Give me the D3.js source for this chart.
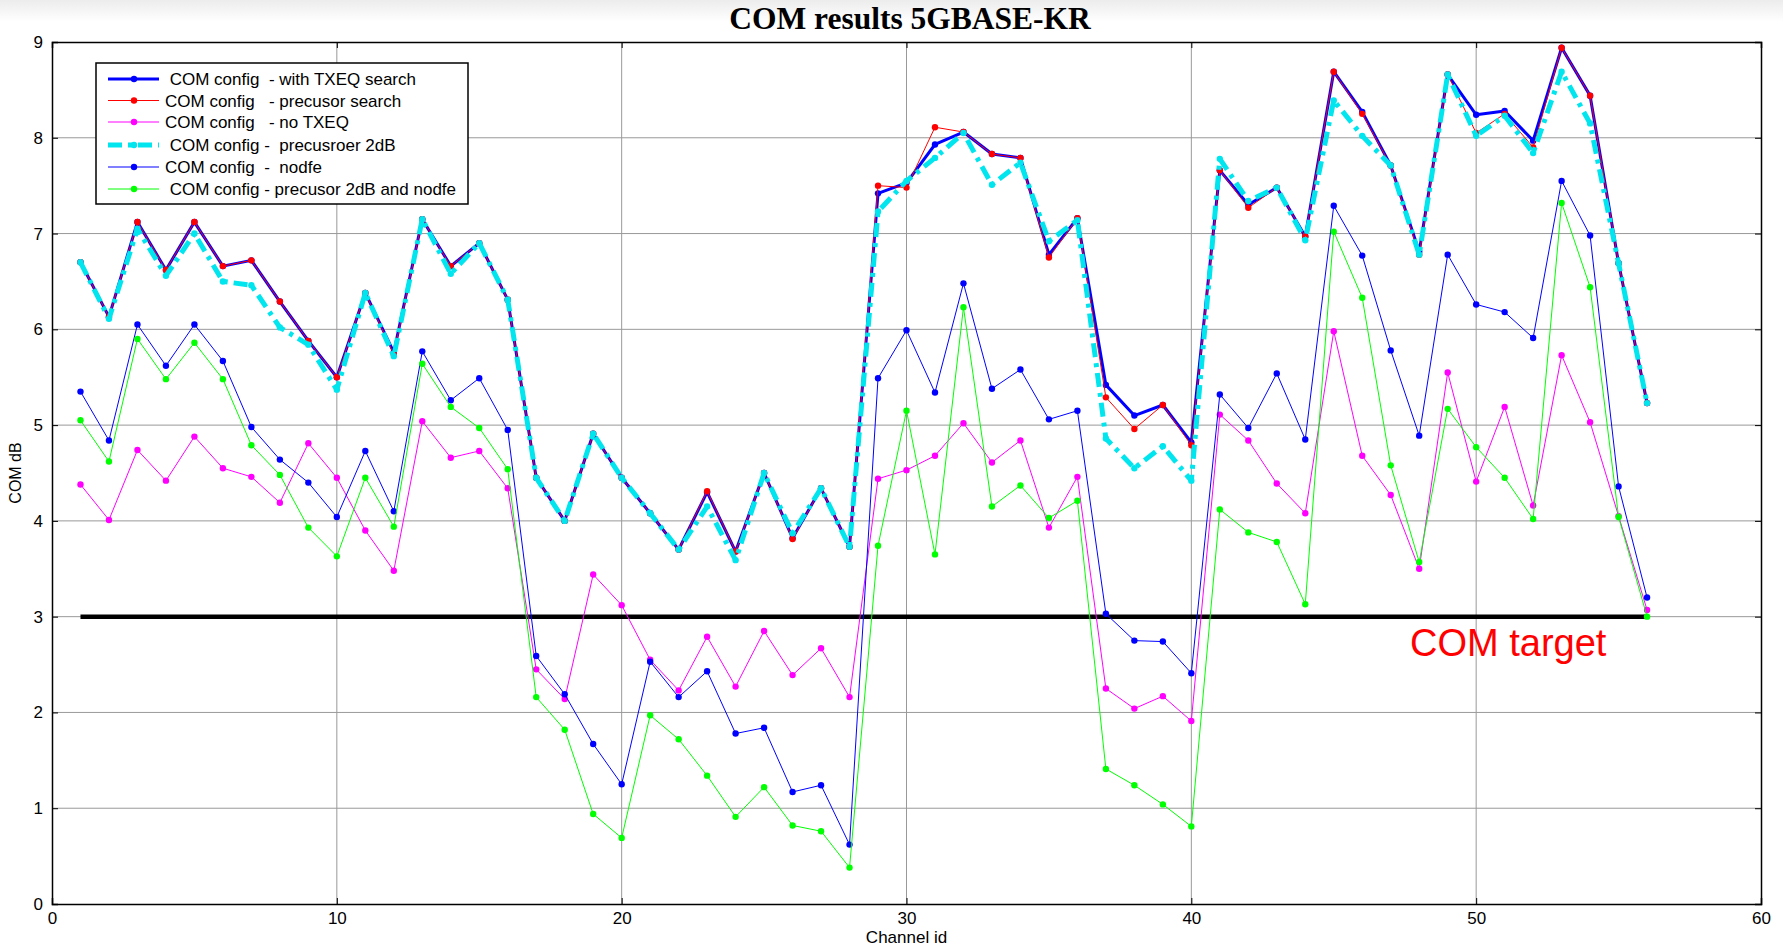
<!DOCTYPE html>
<html lang="en">
<head>
<meta charset="UTF-8">
<title>COM results 5GBASE-KR</title>
<script src="https://d3js.org/d3.v7.min.js"></script>
<style>
  body { margin: 0; background: #fff; font-family: "Liberation Sans", Arial, sans-serif; }
  svg { display: block; }
  .legend text { white-space: pre; }
</style>
</head>
<body>
<svg id="chart"></svg>
<script>
const width = 1783, height = 949;

// ==== data ====
const channels = [1,2,3,4,5,6,7,8,9,10,11,12,13,14,15,16,17,18,19,20,21,22,23,24,25,26,27,28,
  29,30,31,32,33,34,35,36,37,38,39,40,41,42,43,44,45,46,47,48,49,50,51,52,53,54,55,56];

const withTxeq = [6.70,6.13,7.12,6.62,7.12,6.66,6.72,6.29,5.88,5.50,6.38,5.76,7.15,6.66,6.90,6.31,
  4.45,4.00,4.91,4.45,4.08,3.70,4.30,3.68,4.50,3.82,4.34,3.73,7.42,7.53,7.93,8.06,7.83,7.79,6.78,7.16,
  5.42,5.10,5.21,4.82,7.66,7.30,7.48,6.97,8.69,8.27,7.71,6.81,8.66,8.24,8.28,7.97,8.94,8.44,6.69,5.23];

const precursor = [6.70,6.13,7.12,6.62,7.12,6.66,6.72,6.29,5.88,5.50,6.38,5.74,7.15,6.66,6.90,6.31,
  4.45,4.00,4.91,4.45,4.08,3.70,4.31,3.68,4.50,3.81,4.34,3.73,7.50,7.48,8.11,8.06,7.83,7.79,6.75,7.16,
  5.29,4.96,5.21,4.79,7.66,7.27,7.48,6.97,8.69,8.25,7.71,6.78,8.66,8.05,8.25,7.90,8.94,8.44,6.69,5.23];

const noTxeq = [4.38,4.01,4.74,4.42,4.88,4.55,4.46,4.19,4.81,4.45,3.90,3.48,5.04,4.66,4.73,4.34,
  2.45,2.14,3.44,3.12,2.55,2.23,2.79,2.27,2.85,2.39,2.67,2.16,4.44,4.53,4.68,5.02,4.61,4.84,3.93,4.46,
  2.25,2.04,2.17,1.91,5.11,4.84,4.39,4.08,5.98,4.68,4.27,3.50,5.55,4.41,5.19,4.16,5.73,5.03,4.05,3.07];

const precursor2dB = [6.70,6.11,7.05,6.56,7.00,6.50,6.46,6.02,5.84,5.37,6.38,5.72,7.15,6.58,6.90,6.31,
  4.45,4.00,4.91,4.45,4.08,3.70,4.15,3.59,4.50,3.87,4.34,3.73,7.23,7.55,7.79,8.05,7.51,7.74,6.92,7.14,
  4.86,4.55,4.78,4.42,7.78,7.34,7.48,6.93,8.39,8.02,7.71,6.78,8.66,8.02,8.23,7.84,8.69,8.15,6.69,5.23];

const nodfe = [5.35,4.84,6.05,5.62,6.05,5.67,4.98,4.64,4.40,4.04,4.73,4.10,5.77,5.26,5.49,4.95,
  2.59,2.19,1.67,1.25,2.53,2.16,2.43,1.78,1.84,1.17,1.24,0.62,5.49,5.99,5.34,6.48,5.38,5.58,5.06,5.15,
  3.03,2.75,2.74,2.41,5.32,4.97,5.54,4.85,7.29,6.77,5.78,4.89,6.78,6.26,6.18,5.91,7.55,6.98,4.36,3.20];

const precursor2dBNodfe = [5.05,4.62,5.90,5.48,5.86,5.48,4.79,4.48,3.93,3.63,4.45,3.94,5.64,5.19,4.97,4.54,
  2.16,1.82,0.94,0.69,1.97,1.72,1.34,0.91,1.22,0.82,0.76,0.38,3.74,5.15,3.65,6.23,4.15,4.37,4.03,4.21,
  1.41,1.24,1.04,0.81,4.12,3.88,3.78,3.13,7.02,6.33,4.58,3.57,5.17,4.77,4.45,4.02,7.32,6.44,4.04,3.00];

const seriesNames = [
  " COM config  - with TXEQ search",
  "COM config   - precusor search",
  "COM config   - no TXEQ",
  " COM config -  precusroer 2dB",
  "COM config  -  nodfe",
  " COM config - precusor 2dB and nodfe"
];

const comTarget = 3;
const xTicks = [0,10,20,30,40,50,60];
const yTicks = [0,1,2,3,4,5,6,7,8,9];

// ==== styles per series ====
const styles = [
  { values: withTxeq,          color: "#0000ff", width: 3,   dash: null,        r: 3.2 },
  { values: precursor,         color: "#ff0000", width: 1,   dash: null,        r: 3.2 },
  { values: noTxeq,            color: "#ff00ff", width: 1,   dash: null,        r: 3.2 },
  { values: precursor2dB,      color: "#00e5ee", width: 5,   dash: "14,6,4,6",  r: 3.2 },
  { values: nodfe,             color: "#0000ff", width: 1,   dash: null,        r: 3.2 },
  { values: precursor2dBNodfe, color: "#00ff00", width: 1,   dash: null,        r: 3.2 }
];

const svg = d3.select("#chart").attr("width", width).attr("height", height);

// faint gray band at the top of the figure window
const defs = svg.append("defs");
const grad = defs.append("linearGradient").attr("id", "topband").attr("x1", 0).attr("x2", 0).attr("y1", 0).attr("y2", 1);
grad.append("stop").attr("offset", "0%").attr("stop-color", "#ececec");
grad.append("stop").attr("offset", "100%").attr("stop-color", "#ffffff");
svg.append("rect").attr("width", width).attr("height", 22).attr("fill", "url(#topband)");

const plotL = 52, plotR = 1761, plotT = 42, plotB = 904;
const x = d3.scaleLinear().domain([0, 60]).range([plotL, plotR]);
const y = d3.scaleLinear().domain([0, 9]).range([plotB, plotT]);

// grid
const grid = svg.append("g").attr("stroke", "#999").attr("stroke-width", 1);
grid.selectAll(".gx").data(xTicks.slice(1, -1)).enter().append("line")
  .attr("x1", d => x(d)).attr("x2", d => x(d)).attr("y1", plotT).attr("y2", plotB);
grid.selectAll(".gy").data(yTicks.slice(1, -1)).enter().append("line")
  .attr("x1", plotL).attr("x2", plotR).attr("y1", d => y(d)).attr("y2", d => y(d));

// axes (MATLAB-style box with inward ticks)
const fontAxis = "17px";
const gx = svg.append("g").attr("transform", `translate(0,${plotB})`)
  .call(d3.axisBottom(x).tickValues(xTicks).tickSize(-6).tickPadding(8));
const gy = svg.append("g").attr("transform", `translate(${plotL},0)`)
  .call(d3.axisLeft(y).tickValues(yTicks).tickSize(-6).tickPadding(9));
svg.append("g").attr("transform", `translate(0,${plotT})`)
  .call(d3.axisTop(x).tickValues(xTicks).tickSize(-6).tickFormat(""));
svg.append("g").attr("transform", `translate(${plotR},0)`)
  .call(d3.axisRight(y).tickValues(yTicks).tickSize(-6).tickFormat(""));
svg.selectAll(".domain").attr("stroke", "#000").attr("stroke-width", 1.5);
svg.selectAll(".tick line").attr("stroke", "#000");
[gx, gy].forEach(g => g.selectAll("text")
  .attr("font-family", "Liberation Sans, Arial, sans-serif").attr("font-size", fontAxis).attr("fill", "#000"));

// COM target line
svg.append("line")
  .attr("x1", x(channels[0])).attr("x2", x(channels[channels.length - 1]))
  .attr("y1", y(comTarget)).attr("y2", y(comTarget))
  .attr("stroke", "#000").attr("stroke-width", 4.5);

// series
const line = d3.line().x((d, i) => x(channels[i])).y(d => y(d));
styles.forEach(s => {
  const g = svg.append("g");
  g.append("path").datum(s.values)
    .attr("d", line).attr("fill", "none")
    .attr("stroke", s.color).attr("stroke-width", s.width)
    .attr("stroke-dasharray", s.dash)
    .attr("stroke-linejoin", "round");
  g.selectAll("circle").data(s.values).enter().append("circle")
    .attr("cx", (d, i) => x(channels[i])).attr("cy", d => y(d))
    .attr("r", s.r).attr("fill", s.color);
});

// text
svg.append("text").attr("x", 910).attr("y", 29).attr("text-anchor", "middle")
  .attr("font-family", "Liberation Serif, Times New Roman, serif").attr("font-weight", "bold")
  .attr("font-size", "31.5px").text("COM results 5GBASE-KR");
svg.append("text").attr("x", (plotL + plotR) / 2).attr("y", 943).attr("text-anchor", "middle")
  .attr("font-size", "17px").text("Channel id");
svg.append("text").attr("transform", `translate(21,${(plotT + plotB) / 2}) rotate(-90)`)
  .attr("text-anchor", "middle").attr("font-size", "16px").text("COM dB");
svg.append("text").attr("x", 1410).attr("y", 656)
  .attr("fill", "#ff0000").attr("font-size", "38px").text("COM target");

// legend
const legend = svg.append("g").attr("class", "legend");
legend.append("rect").attr("x", 96).attr("y", 63).attr("width", 372).attr("height", 141)
  .attr("fill", "#fff").attr("stroke", "#000").attr("stroke-width", 1.5);
const rowY = [79, 100.5, 122, 145, 167, 189];
styles.forEach((s, i) => {
  legend.append("line").attr("x1", 108).attr("x2", 159).attr("y1", rowY[i]).attr("y2", rowY[i])
    .attr("stroke", s.color).attr("stroke-width", Math.min(s.width, 5))
    .attr("stroke-dasharray", s.dash);
  legend.append("circle").attr("cx", 134).attr("cy", rowY[i]).attr("r", s.r).attr("fill", s.color);
  legend.append("text").attr("x", 165).attr("y", rowY[i] + 6)
    .attr("font-size", "17px").attr("fill", "#000").text(seriesNames[i]);
});
</script>
</body>
</html>
